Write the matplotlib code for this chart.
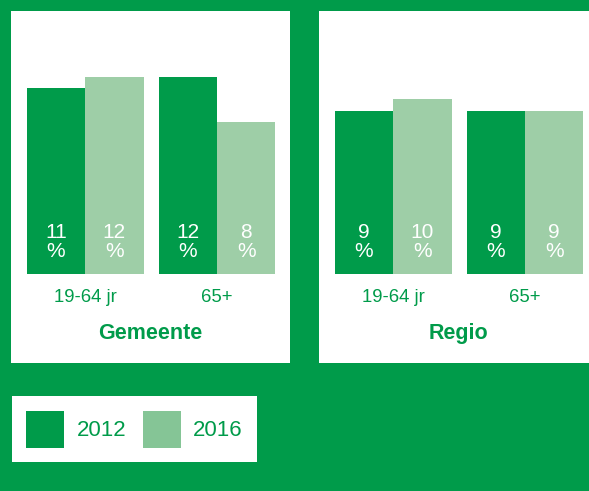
import matplotlib.pyplot as plt
import matplotlib.transforms as mtransforms
from matplotlib.patches import Patch

plt.rcParams['font.family'] = ['Liberation Sans', 'DejaVu Sans']

# data
panels = ['Gemeente', 'Regio']
groups = ['19-64 jr', '65+']
years = ['2012', '2016']
gemeente_2012 = [11, 12]
gemeente_2016 = [12, 8]
regio_2012 = [9, 9]
regio_2016 = [10, 9]

green = '#009b4a'
light = '#9ecea7'
legend_light = '#85c596'

W, H = 589, 491
fig = plt.figure(figsize=(W / 100, H / 100), dpi=100, facecolor=green)

base = -5.6   # value at the bar baseline
w = 0.443


def panel(x0, title, v2012, v2016):
    # white panel, 279 x 352 px
    ax = fig.add_axes([x0 / W, (H - 363) / H, 279 / W, 352 / H])
    ax.set_facecolor('white')
    ax.set_xlim(-0.561, 1.553)
    ax.set_ylim(-13.55, 17.9)
    ax.set_xticks([])
    ax.set_yticks([])
    for spine in ax.spines.values():
        spine.set_visible(False)
    xs = range(len(groups))
    for i, (vals, col) in enumerate([(v2012, green), (v2016, light)]):
        xpos = [x + (i - 0.5) * w for x in xs]
        ax.bar(xpos, [v - base for v in vals], bottom=base, width=w,
               color=col, linewidth=0)
        for xp, v in zip(xpos, vals):
            ax.text(xp, base + 2.9, f'{v}\n%', ha='center', va='center',
                    color='white', fontsize=15, linespacing=1.0)
    tr = mtransforms.blended_transform_factory(ax.transData, ax.transAxes)
    for x, g in zip(xs, groups):
        ax.text(x, 0.185, g, transform=tr, ha='center', va='center',
                color=green, fontsize=13.3)
    ax.text(0.5, 0.085, title, transform=ax.transAxes, ha='center',
            va='center', color=green, fontsize=15.5, fontweight='bold')
    return ax


panel(11, panels[0], gemeente_2012, gemeente_2016)
panel(319, panels[1], regio_2012, regio_2016)

handles = [Patch(facecolor=green, edgecolor='none'),
           Patch(facecolor=legend_light, edgecolor='none')]
leg = fig.legend(handles, years, loc='lower left', ncol=2,
                 bbox_to_anchor=(12 / W, (H - 462) / H), borderaxespad=0,
                 fontsize=16, handlelength=1.71, handleheight=2.17,
                 handletextpad=0.54, columnspacing=0.75, borderpad=0.65,
                 fancybox=False, frameon=True, edgecolor='none',
                 facecolor='white', framealpha=1)
for t in leg.get_texts():
    t.set_color(green)

fig.savefig('out.png', dpi=100, facecolor=green)
